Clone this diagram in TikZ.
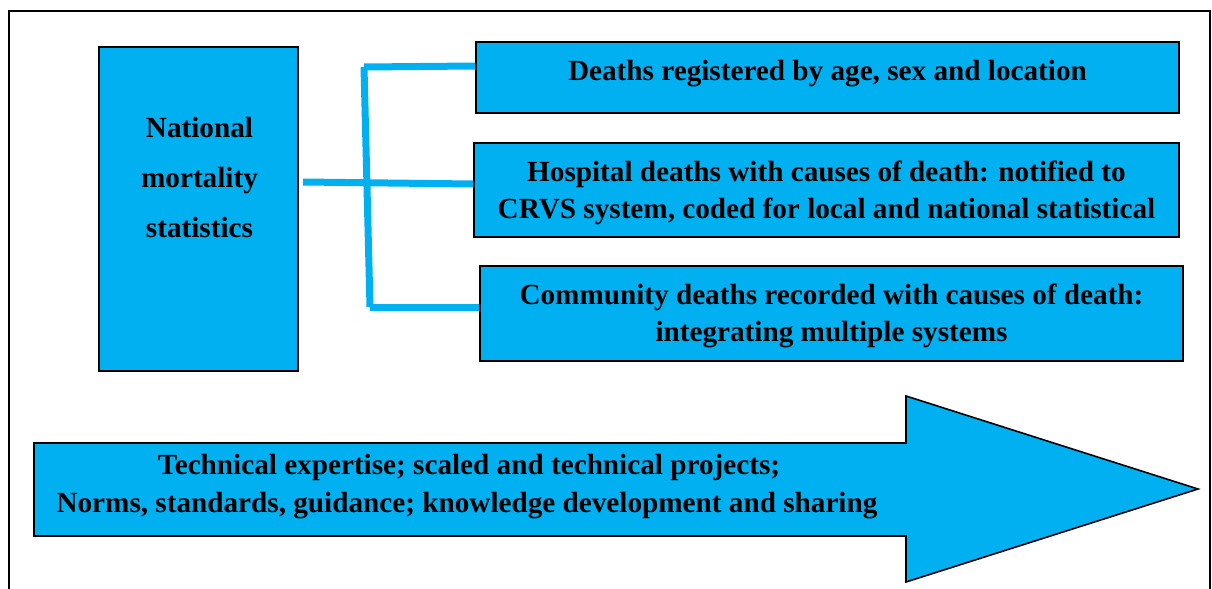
\documentclass[tikz,border=0pt]{standalone}
\usepackage{fontspec}
\setmainfont{Liberation Serif}
\definecolor{boxblue}{HTML}{00B0F0}
\begin{document}
\begin{tikzpicture}[x=0.5pt,y=-0.5pt,
  box/.style={draw=black,line width=1pt,fill=boxblue,rectangle,inner sep=0pt},
  txt/.style={font=\bfseries\fontsize{14.6}{18.5}\selectfont,align=center,inner sep=0pt},
  link/.style={draw=boxblue,line width=3.5pt}]
\useasboundingbox (0,0) rectangle (1212,589);
% outer frame
\draw[line width=1pt] (9,600) -- (9,11) -- (1210,11) -- (1210,600);
% boxes
\node[box,minimum width=99.5pt,minimum height=162pt] (nat) at (198.5,209) {};
\node[txt,font=\bfseries\fontsize{14.6}{25}\selectfont] (nattxt) at (199.5,178) {National\\mortality\\statistics};
\node[box,minimum width=351.5pt,minimum height=35.5pt] (b1) at (827.5,77.5) {};
\node[txt] (b1txt) at (827.5,73.5) {Deaths registered by age, sex and location};
\node[box,minimum width=352.5pt,minimum height=47pt] (b2) at (826.5,190) {};
\node[txt] (b2txt) at (826.5,192.5) {Hospital deaths with causes of death: notified to\\CRVS system, coded for local and national statistical};
\node[box,minimum width=351.5pt,minimum height=47.5pt] (b3) at (831.5,313.5) {};
\node[txt] (b3txt) at (831.5,316) {Community deaths recorded with causes of death:\\integrating multiple systems};
% connectors
\coordinate (ct) at (364,67);
\coordinate (cb) at (370,307);
\draw[link] (nat.east |- 0,182) ++(4,0) -- (b2.west |- 0,184);
\draw[link] (ct) -- (b1.west |- 0,66);
\draw[link] (ct) -- (cb);
\draw[link] (cb) -- (b3.west |- 0,307);
% big arrow
\coordinate (a1) at (34,443);
\coordinate (a2) at (906,443);
\coordinate (a3) at (906,396);
\coordinate (tip) at (1198,489);
\coordinate (a5) at (906,582);
\coordinate (a6) at (906,536);
\coordinate (a7) at (34,536);
\draw[line width=0.8pt,fill=boxblue] (a1) -- (a2) -- (a3) -- (tip) -- (a5) -- (a6) -- (a7) -- cycle;
\node[txt,font=\bfseries\fontsize{14.6}{19}\selectfont] (arrtxt) at (467,487) {\hspace*{2pt}Technical expertise; scaled and technical projects;\\Norms, standards, guidance; knowledge development and sharing};
\end{tikzpicture}
\end{document}
